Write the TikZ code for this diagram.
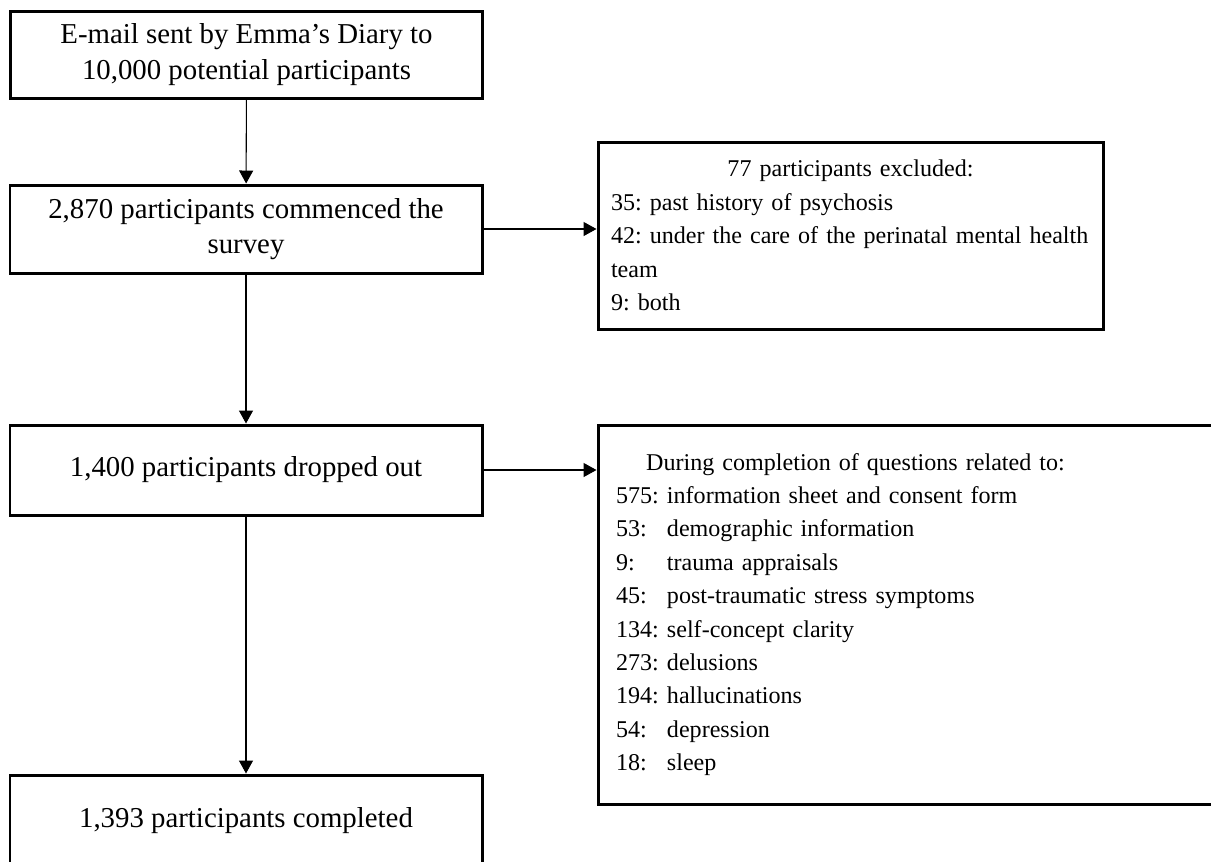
\documentclass[tikz,border=0pt]{standalone}
\usepackage{fontspec}
\setmainfont{Liberation Serif}
\usepackage{tikz}
\usetikzlibrary{arrows.meta,positioning,calc}
\tikzset{box/.style={draw=black,line width=1.7pt,align=center,minimum width=9.44cm,inner sep=0pt,font=\fontsize{16.4pt}{20pt}\selectfont}}
\tikzset{listbox/.style={draw=black,line width=1.7pt,align=left,inner ysep=0pt,font=\fontsize{13.7pt}{19pt}\selectfont\frenchspacing}}
\newcommand{\cause}[2]{\makebox[1.02cm][l]{#1}#2}

\begin{document}
\begin{tikzpicture}[->, >={Triangle[length=7.4pt,width=8pt]}, semithick]
    \useasboundingbox (0,0) rectangle (24.22,-17.22);
    % main column
    \node[box,minimum height=1.74cm] (1) at (4.93,-1.09) {E-mail sent by Emma's Diary to\\10,000 potential participants};
    \node[box,minimum height=1.76cm] (2) at (4.92,-4.58) {2,870 participants commenced the\\survey};
    \node[box,minimum height=1.80cm] (3) at (4.92,-9.40) {1,400 participants dropped out};
    \node[box,minimum height=1.82cm] (4) at (4.92,-16.41) {1,393 participants completed};
    % side boxes
    \node[listbox,minimum height=3.74cm,text width=9.58cm,inner xsep=0.26cm] (5) at (17.01,-4.71) {\makebox[\linewidth]{77 participants excluded:}\\35: past history of psychosis\\\mbox{42: under the care of the perinatal mental health}\\team\\9: both};
    \node[listbox,minimum height=7.58cm,text width=11.72cm,inner xsep=0.36cm] (6) at (18.18,-12.29) {\makebox[9.58cm]{During completion of questions related to:}\\
        \cause{575:}{information sheet and consent form}\\
        \cause{53:}{demographic information}\\
        \cause{9:}{trauma appraisals}\\
        \cause{45:}{post-traumatic stress symptoms}\\
        \cause{134:}{self-concept clarity}\\
        \cause{273:}{delusions}\\
        \cause{194:}{hallucinations}\\
        \cause{54:}{depression}\\
        \cause{18:}{sleep}};
    \path (1) edge (2);
    \path (2) edge (3);
    \path (3) edge (4);
    \path (2.east) edge (2.east -| 5.west);
    \path (3.east) edge (3.east -| 6.west);
\end{tikzpicture}
\end{document}
